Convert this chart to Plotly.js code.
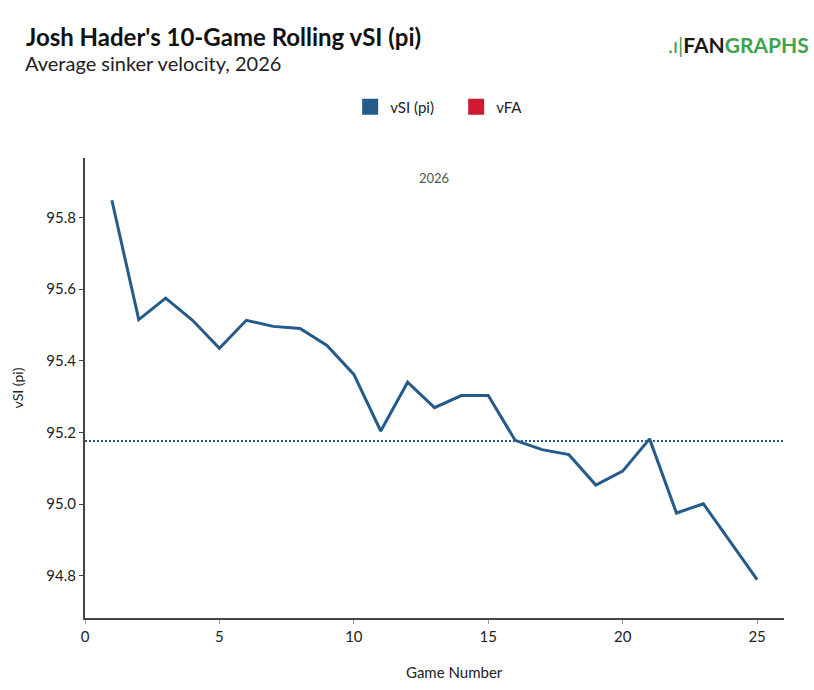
<!DOCTYPE html>
<html>
<head>
<meta charset="utf-8">
<script src="https://cdn.plot.ly/plotly-3.0.1.min.js"></script>
<style>html,body{margin:0;padding:0;background:#fff;}#chart{width:814px;height:690px;}</style>
</head>
<body>
<div id="chart"></div>
<script>
// ---- data ----
var games = [1,2,3,4,5,6,7,8,9,10,11,12,13,14,15,16,17,18,19,20,21,22,23,24,25];
var vSI = [95.848,95.515,95.575,95.513,95.435,95.513,95.496,95.490,95.443,95.362,
           95.204,95.340,95.269,95.303,95.303,95.178,95.152,95.138,95.053,95.092,
           95.182,94.975,95.001,94.895,94.789];
var seasonAvgSI = 95.176;
var seasonLabel = '2026';
var xTicks = [0,5,10,15,20,25];
var yTicks = [94.8,95.0,95.2,95.4,95.6,95.8];

var siColor = '#245b8b';
var faColor = '#cf1a32';
var font = 'Lato, "Open Sans", sans-serif';

var traces = [
  {x: games, y: vSI, type: 'scatter', mode: 'lines', name: 'vSI (pi)',
   line: {color: siColor, width: 3}, showlegend: false, hoverinfo: 'x+y'},
  {x: [null], y: [null], type: 'scatter', mode: 'markers', name: 'vSI (pi)',
   marker: {symbol: 'square', size: 16, color: siColor}},
  {x: [null], y: [null], type: 'scatter', mode: 'markers', name: 'vFA',
   marker: {symbol: 'square', size: 16, color: faColor}}
];

var layout = {
  width: 814, height: 690,
  margin: {l: 85, r: 30, t: 158, b: 72},
  paper_bgcolor: '#fff', plot_bgcolor: '#fff',
  font: {family: font, color: '#222', size: 15},
  title: {
    text: "<b>Josh Hader's 10-Game Rolling vSI (pi)</b>",
    font: {family: font, size: 24, color: '#111'},
    x: 26/814, xanchor: 'left', xref: 'container',
    y: 1 - 38/690, yanchor: 'middle', yref: 'container'
  },
  showlegend: true,
  legend: {orientation: 'h', x: 0.531, xanchor: 'center', y: 1.111, yanchor: 'middle',
           entrywidth: 61, font: {family: font, size: 15, color: '#222'}, itemclick: false},
  xaxis: {
    range: [0, 26], tickvals: xTicks, showgrid: false, zeroline: false,
    showline: true, linecolor: '#444', linewidth: 2,
    ticks: 'outside', ticklen: 4, tickcolor: '#999', tickwidth: 1,
    tickfont: {family: font, size: 15, color: '#222'}
  },
  yaxis: {
    range: [94.682, 95.966], tickvals: yTicks, tickformat: '.1f', showgrid: false, zeroline: false,
    showline: true, linecolor: '#444', linewidth: 2,
    ticks: 'outside', ticklen: 4, tickcolor: '#444', tickwidth: 1,
    tickfont: {family: font, size: 15, color: '#222'},
    title: {text: 'vSI (pi)', font: {family: font, size: 14, color: '#222'}, standoff: 19}
  },
  shapes: [
    {type: 'line', xref: 'paper', x0: 0, x1: 1, yref: 'y', y0: seasonAvgSI, y1: seasonAvgSI,
     line: {color: siColor, width: 2, dash: '2px,2px'}}
  ],
  annotations: [
    {text: 'Average sinker velocity, 2026', xref: 'paper', yref: 'paper',
     x: (23-85)/699, y: (618-63)/460, showarrow: false, xanchor: 'left', yanchor: 'middle',
     font: {family: font, size: 20, color: '#222'}},
    {text: seasonLabel, xref: 'paper', yref: 'paper', x: 0.499, y: 0.957, showarrow: false,
     font: {family: font, size: 13, color: '#555'}, xanchor: 'center', yanchor: 'middle'},
    {text: 'Game Number', xref: 'paper', yref: 'paper', x: (454-85)/699, y: (618-672)/460,
     showarrow: false, font: {family: font, size: 15, color: '#222'}, xanchor: 'center', yanchor: 'middle'},
    {text: '<span style="color:#3fa34d">.ı|</span><b><span style="color:#1a1a1a">FAN</span><span style="color:#3fa34d">GRAPHS</span></b>',
     xref: 'paper', yref: 'paper', x: (811-85)/699, y: (618-44)/460, showarrow: false,
     font: {family: font, size: 21}, xanchor: 'right', yanchor: 'middle'}
  ]
};

Plotly.newPlot('chart', traces, layout, {displayModeBar: false, staticPlot: true});
</script>
</body>
</html>
